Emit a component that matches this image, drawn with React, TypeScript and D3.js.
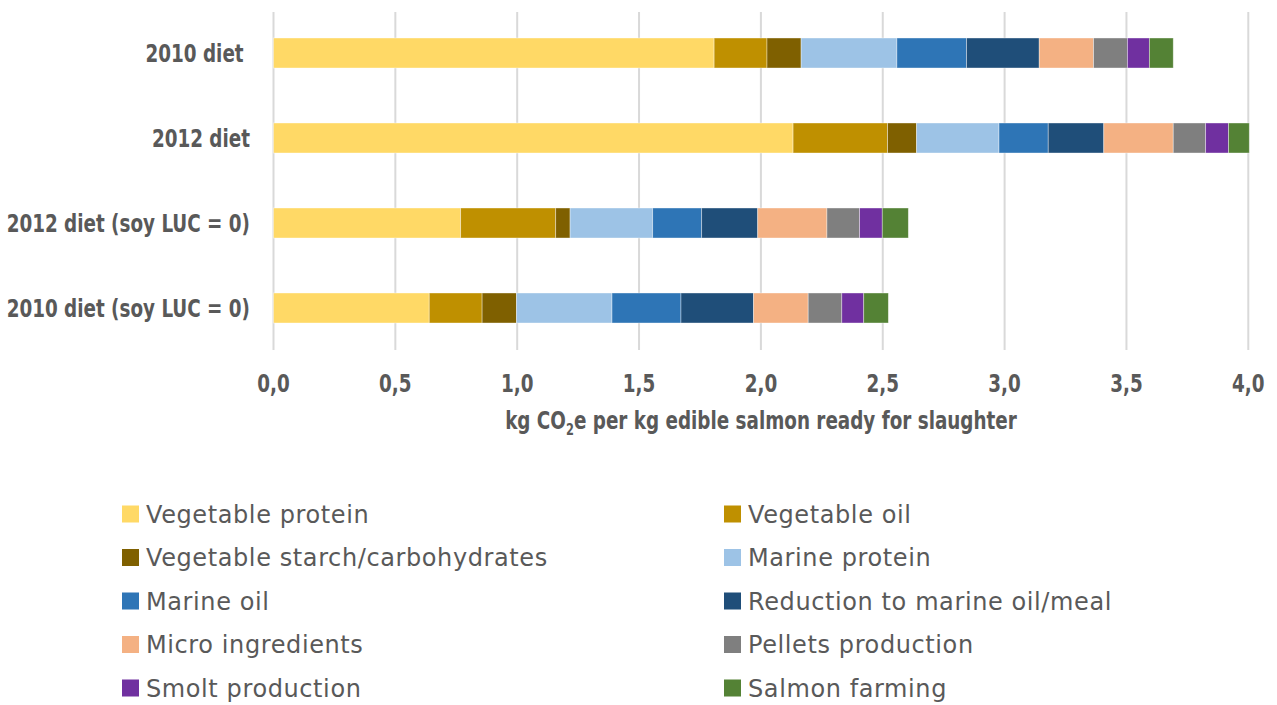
import React from "react";
import * as d3 from "d3";

const categories = ["2010 diet ", "2012 diet", "2012 diet (soy LUC = 0)", "2010 diet (soy LUC = 0)"];
const seriesNames = [
  "Vegetable protein", "Vegetable oil", "Vegetable starch/carbohydrates", "Marine protein",
  "Marine oil", "Reduction to marine oil/meal", "Micro ingredients", "Pellets production",
  "Smolt production", "Salmon farming",
];
const seriesColors = ["#FFD966", "#BF9000", "#7F6000", "#9DC3E6", "#2E75B6", "#1F4E79", "#F4B183", "#7F7F7F", "#7030A0", "#548235"];
// values per category, in series order
const diet2010 = [1.808, 0.217, 0.140, 0.393, 0.286, 0.298, 0.223, 0.139, 0.090, 0.098];
const diet2012 = [2.132, 0.388, 0.119, 0.338, 0.202, 0.228, 0.285, 0.133, 0.094, 0.085];
const diet2012NoLuc = [0.768, 0.390, 0.059, 0.339, 0.201, 0.230, 0.284, 0.134, 0.093, 0.107];
const diet2010NoLuc = [0.639, 0.217, 0.141, 0.392, 0.283, 0.298, 0.224, 0.138, 0.090, 0.101];
const tickValues = [0, 0.5, 1.0, 1.5, 2.0, 2.5, 3.0, 3.5, 4.0];

const BOLD = "'DejaVu Sans Condensed', 'DejaVu Sans', sans-serif";
const LIGHT = "'DejaVu Sans', sans-serif";
const TEXT = "#595959";
const SX = 0.85;

export default function App() {
  const W = 1277, H = 705;
  const rows = [diet2010, diet2012, diet2012NoLuc, diet2010NoLuc];
  const x = d3.scaleLinear().domain([0, 4]).range([273.5, 1248.3]);
  const y = d3.scaleBand().domain(categories).range([10.5, 350.5]).paddingInner(0.647).paddingOuter(0.3235);
  const stackData = rows.map((r, i) => {
    const o: any = { cat: categories[i] };
    seriesNames.forEach((s, j) => (o[s] = r[j]));
    return o;
  });
  const stacked = d3.stack().keys(seriesNames)(stackData);
  const fmt = (v: number) => d3.format(".1f")(v).replace(".", ",");

  return (
    <svg width={W} height={H} style={{ position: "absolute", left: 0, top: 0, background: "#fff" }}>
      {tickValues.map((t) => (
        <line key={t} x1={x(t)} x2={x(t)} y1={12} y2={350} stroke="#d9d9d9" strokeWidth={2} />
      ))}
      {stacked.map((layer, j) => (
        <g key={layer.key} fill={seriesColors[j]}>
          {layer.map((d: any, i: number) => (
            <rect key={i} x={x(d[0])} y={y(categories[i])} width={x(d[1]) - x(d[0])} height={y.bandwidth()}
              stroke="#ffffff" strokeOpacity={0.5} strokeWidth={0.75} />
          ))}
        </g>
      ))}
      {categories.map((c) => (
        <text key={c} transform={`translate(250,${(y(c) as number) + y.bandwidth() / 2}) scale(${SX},1)`} dy="0.36em" textAnchor="end"
          fontFamily={BOLD} fontWeight="bold" fontSize={24} fill={TEXT} style={{ whiteSpace: "pre" }}>{c}</text>
      ))}
      {tickValues.map((t) => (
        <text key={t} transform={`translate(${x(t)},383) scale(${SX},1)`} dy="0.36em" textAnchor="middle" fontFamily={BOLD}
          fontWeight="bold" fontSize={24} fill={TEXT}>{fmt(t)}</text>
      ))}
      <text transform={`translate(761,420) scale(${SX},1)`} dy="0.36em" textAnchor="middle" fontFamily={BOLD} fontWeight="bold" fontSize={24} fill={TEXT}>
        kg CO<tspan fontSize={15} dy="6">2</tspan><tspan dy="-6">e per kg edible salmon ready for slaughter</tspan>
      </text>
      {seriesNames.map((s, j) => {
        const col = j % 2, row = Math.floor(j / 2);
        const sx = col === 0 ? 122 : 724;
        const cy = 514 + row * 43.5;
        return (
          <g key={s}>
            <rect x={sx} y={cy - 8.5} width={17} height={17} fill={seriesColors[j]} />
            <text x={sx + 24} y={cy} dy="0.36em" fontFamily={LIGHT} fontSize={24} letterSpacing={0.6} fill={TEXT}>{s}</text>
          </g>
        );
      })}
    </svg>
  );
}
